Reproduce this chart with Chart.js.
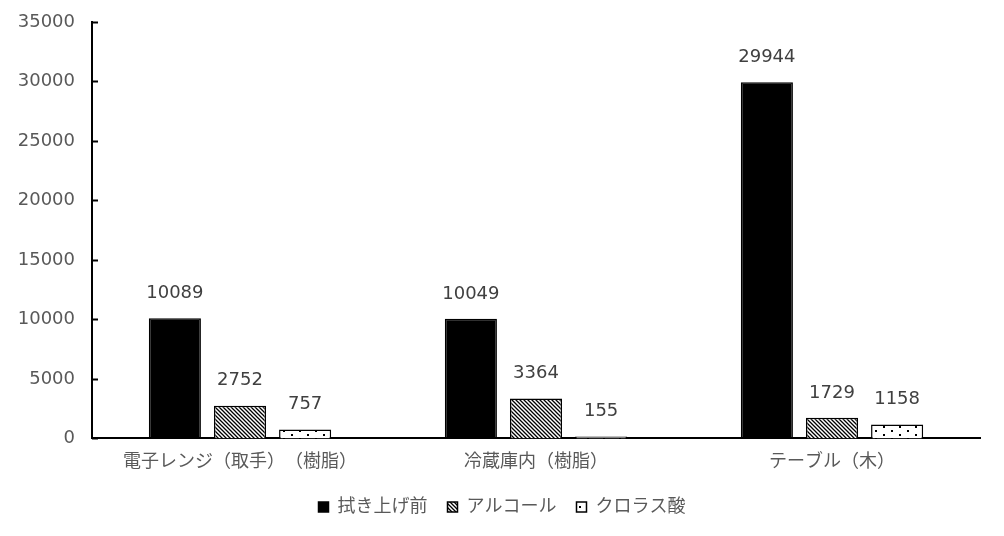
<!DOCTYPE html>
<html>
<head>
<meta charset="utf-8">
<script src="https://cdn.jsdelivr.net/npm/chart.js@4/dist/chart.umd.min.js"></script>
<style>
  html, body { margin: 0; padding: 0; background: #fff; }
  #wrap { width: 1004px; height: 536px; }
  canvas { text-spacing-trim: space-all; }
</style>
</head>
<body>
<div id="wrap"><canvas id="chart" width="1004" height="536"></canvas></div>
<script>
const places = ['電子レンジ（取手）（樹脂）', '冷蔵庫内（樹脂）', 'テーブル（木）'];
const seriesNames = ['拭き上げ前', 'アルコール', 'クロラス酸'];
const beforeWipe = [10089, 10049, 29944];
const alcohol = [2752, 3364, 1729];
const chlorous = [757, 155, 1158];

const FONT = '"DejaVu Sans", "Noto Sans CJK JP", sans-serif';
const GREY = '#595959';

function hatchPattern() {
  const c = document.createElement('canvas');
  c.width = 4; c.height = 4;
  const g = c.getContext('2d');
  g.fillStyle = '#fff';
  g.fillRect(0, 0, 4, 4);
  g.strokeStyle = '#000';
  g.lineWidth = 1.3;
  g.beginPath();
  g.moveTo(-1, -1); g.lineTo(5, 5);
  g.moveTo(-1, 3); g.lineTo(1, 5);
  g.moveTo(3, -1); g.lineTo(5, 1);
  g.stroke();
  return g.createPattern(c, 'repeat');
}

function dotPattern() {
  const c = document.createElement('canvas');
  c.width = 16; c.height = 8;
  const g = c.getContext('2d');
  g.fillStyle = '#fff';
  g.fillRect(0, 0, 16, 8);
  g.fillStyle = '#000';
  g.fillRect(3, 2, 2, 2);
  g.fillRect(11, 6, 2, 2);
  return g.createPattern(c, 'repeat');
}

// value labels over bars + inward ticks on the y axis
const extras = {
  id: 'extras',
  afterDatasetsDraw(chart) {
    const ctx = chart.ctx;
    ctx.save();
    ctx.font = '18px ' + FONT;
    ctx.fillStyle = '#404040';
    ctx.textAlign = 'center';
    ctx.textBaseline = 'bottom';
    chart.data.datasets.forEach((ds, i) => {
      chart.getDatasetMeta(i).data.forEach((bar, j) => {
        ctx.fillText(String(ds.data[j]), bar.x, bar.y - 16);
      });
    });
    const y = chart.scales.y;
    ctx.strokeStyle = '#000';
    ctx.lineWidth = 2;
    y.ticks.forEach(t => {
      const py = Math.round(y.getPixelForValue(t.value)) + 0.5;
      ctx.beginPath();
      ctx.moveTo(y.right, py);
      ctx.lineTo(y.right + 6, py);
      ctx.stroke();
    });
    ctx.restore();
  }
};

new Chart(document.getElementById('chart'), {
  type: 'bar',
  data: {
    labels: places,
    datasets: [
      { label: seriesNames[0], data: beforeWipe, backgroundColor: '#000', borderColor: '#000', borderWidth: 1.5 },
      { label: seriesNames[1], data: alcohol, backgroundColor: hatchPattern(), borderColor: '#000', borderWidth: 1.5 },
      { label: seriesNames[2], data: chlorous, backgroundColor: dotPattern(), borderColor: '#000', borderWidth: 1.5 }
    ]
  },
  options: {
    responsive: false,
    animation: false,
    devicePixelRatio: 1,
    categoryPercentage: 0.66,
    barPercentage: 0.8,
    layout: { padding: { top: 0, right: 0, left: 0, bottom: 10 } },
    plugins: {
      tooltip: { enabled: false },
      legend: {
        position: 'bottom',
        labels: {
          boxWidth: 10,
          boxHeight: 10,
          padding: 20,
          color: GREY,
          font: { family: FONT, size: 18 }
        }
      }
    },
    scales: {
      x: {
        grid: { display: false },
        border: { display: true, color: '#000', width: 2 },
        ticks: { color: GREY, font: { family: FONT, size: 18 }, padding: 5 }
      },
      y: {
        min: 0,
        max: 35000,
        afterFit(s) { s.width = 92; s.paddingTop = 22; },
        grid: { display: false },
        border: { display: true, color: '#000', width: 2 },
        ticks: {
          stepSize: 5000,
          color: GREY,
          font: { family: FONT, size: 18 },
          padding: 9,
          callback: v => String(v)
        }
      },
      // empty right margin so the legend centres on the whole page
      y2: {
        position: 'right',
        min: 0,
        max: 1,
        afterFit(s) { s.width = 24; },
        grid: { display: false },
        border: { display: false },
        ticks: { display: false }
      }
    }
  },
  plugins: [extras]
});
</script>
</body>
</html>
